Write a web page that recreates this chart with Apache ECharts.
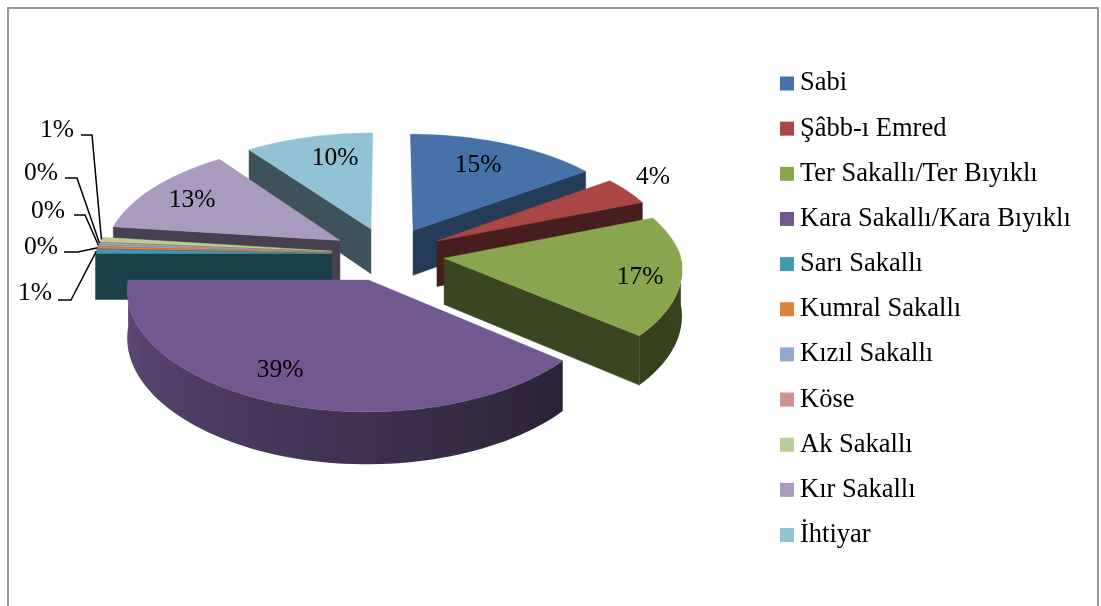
<!DOCTYPE html>
<html>
<head>
<meta charset="utf-8">
<style>html,body{margin:0;padding:0;background:#fff}#c{width:1101px;height:606px}</style>
<script src="https://cdn.jsdelivr.net/npm/echarts@6/dist/echarts.min.js"></script>
</head>
<body>
<div id="c"></div>
<script>
const categories = ['Sabi','Şâbb-ı Emred','Ter Sakallı/Ter Bıyıklı','Kara Sakallı/Kara Bıyıklı','Sarı Sakallı','Kumral Sakallı','Kızıl Sakallı','Köse','Ak Sakallı','Kır Sakallı','İhtiyar'];
const values = [15,4,17,39,0.6,0.25,0.25,0.25,0.65,13,10];
const colors = ['#4672a8','#aa4644','#89a54e','#71588f','#4198af','#db843d','#93a9cf','#d19392','#b9cd96','#a99bbd','#92c3d5'];
// painter's order of the slices, back to front
const drawOrder = [10,9,8,7,6,5,4,0,1,2,3];
const wallShade = [.53,.42,.42,.42,.42,.42,.42,.42,.42,.42,.42];
// label layout: centre of each percentage text
const labelPos = [[478,165],[653,177],[640,277],[280,370],[35,293],[41,247],[48,211],[41,173],[57,130],[192,200],[335,158]];
// leader lines: start next to the text, then the elbow; they end on the slice
const leaderPos = {4:[[58,300],[71,300]],5:[[64,252],[78,252]],6:[[74,215],[85,215]],7:[[65,178],[77,178]],8:[[81,135],[92,135]]};

const view = {cx:388,cy:254,rx:236,ry:113,kxFar:.12,kxNear:.08,kyFar:.12,kyNear:.10,depth:46,explode:.24};
const total = values.reduce((a,b)=>a+b,0);
const starts = [];
values.reduce((acc,v,i)=>{starts[i]=acc;return acc+v;},0);
const rad = d=>d*Math.PI/180;

function project(u,v,dz){
  const wx = 1/(1+(v>0?view.kxFar:view.kxNear)*v), wy = 1/(1+(v>0?view.kyFar:view.kyNear)*v);
  return [view.cx+view.rx*u*wx, view.cy-view.ry*v*wy+dz*wy];
}
function shadeColor(hex,f){
  const n=parseInt(hex.slice(1),16);
  return 'rgb('+[(n>>16)&255,(n>>8)&255,n&255].map(c=>Math.round(c*f)).join(',')+')';
}
const wallStops=[[90,.41],[130,.38],[180,.55],[230,.72],[270,.84]];
function outerShade(t){
  for(let i=1;i<wallStops.length;i++){
    if(t<=wallStops[i][0]){
      const a=wallStops[i-1],b=wallStops[i];
      return a[1]+(b[1]-a[1])*(t-a[0])/(b[0]-a[0]);
    }
  }
  return wallStops[wallStops.length-1][1];
}
function renderSlice(params,api){
  const i=params.seriesIndex;
  const val=api.value(0);
  const a=starts[i]/total*360, b=a+val/total*360, m=(a+b)/2;
  const ou=view.explode*Math.sin(rad(m)), ov=view.explode*Math.cos(rad(m));
  const P=(t,dz)=>project(ou+Math.sin(rad(t)),ov+Math.cos(rad(t)),dz||0);
  const apex=dz=>project(ou,ov,dz||0);
  const d=view.depth, col=colors[i], children=[];
  const poly=(pts,fill,sw)=>({type:'polygon',shape:{points:pts},style:{fill:fill,stroke:sw?fill:null,lineWidth:sw?.5:0},silent:true});
  const edgeWall=t=>poly([apex(),P(t),P(t,d),apex(d)],shadeColor(col,wallShade[i]),true);
  // radial walls that face the viewer
  if(a>=180&&a<360) children.push(edgeWall(a));
  if(b>0&&b<=180) children.push(edgeWall(b));
  // rim of the slice
  const t0=Math.max(a,90), t1=Math.min(b,270);
  if(t1>t0){
    const top=[],bot=[],stops=[];
    const n=Math.max(4,Math.ceil((t1-t0)/2));
    const x0=P(t1)[0], x1=Math.max(P(t0)[0],x0+1);
    for(let j=0;j<=n;j++){
      const t=t0+(t1-t0)*j/n;
      top.push(P(t)); bot.unshift(P(t,d));
    }
    const ordered=[];
    for(let j=0;j<=n;j++){
      const t=t1-(t1-t0)*j/n;
      ordered.push({offset:(P(t)[0]-x0)/(x1-x0),color:shadeColor(col,outerShade(t))});
    }
    ordered.sort((p,q)=>p.offset-q.offset);
    ordered.forEach(s=>{s.offset=Math.min(1,Math.max(0,s.offset));stops.push(s);});
    children.push(poly(top.concat(bot),{type:'linear',x:x0,y:0,x2:x1,y2:0,global:true,colorStops:stops},false));
  }
  // top face
  const face=[apex()];
  const n=Math.max(2,Math.ceil((b-a)/2));
  for(let j=0;j<=n;j++) face.push(P(a+(b-a)*j/n));
  children.push(poly(face,col,true));
  // leader
  if(leaderPos[i]){
    const end=P(m);
    children.push({type:'polyline',shape:{points:leaderPos[i].concat([end])},style:{stroke:'#000',lineWidth:1.5,fill:null},silent:true,z2:50});
  }
  // label
  children.push({type:'text',x:labelPos[i][0],y:labelPos[i][1],z2:60,silent:true,
    style:{text:Math.round(val/total*100)+'%',fontFamily:'Liberation Serif',fontSize:25.5,fill:'#000',align:'center',verticalAlign:'middle'}});
  return {type:'group',children:children};
}
const series = categories.map((name,i)=>({
  type:'custom',name:name,coordinateSystem:'none',
  z:2+drawOrder.indexOf(i),
  itemStyle:{color:colors[i]},
  animation:false,silent:true,
  renderItem:renderSlice,
  data:[[values[i]]]
}));
const chart = echarts.init(document.getElementById('c'),null,{renderer:'canvas'});
chart.setOption({
  animation:false,
  backgroundColor:'#fff',
  tooltip:{show:false},
  legend:{
    orient:'vertical',left:780,top:65,itemWidth:14,itemHeight:14,itemGap:8.15,
    icon:'rect',selectedMode:false,data:categories,
    textStyle:{fontFamily:'Liberation Serif',fontSize:26.5,color:'#000',lineHeight:31,padding:[6,0,0,1]},
    padding:0
  },
  graphic:[{type:'rect',silent:true,z:-1,shape:{x:8,y:8,width:1090,height:640},style:{fill:null,stroke:'#979797',lineWidth:2}}],
  series:series
});
</script>
</body>
</html>
